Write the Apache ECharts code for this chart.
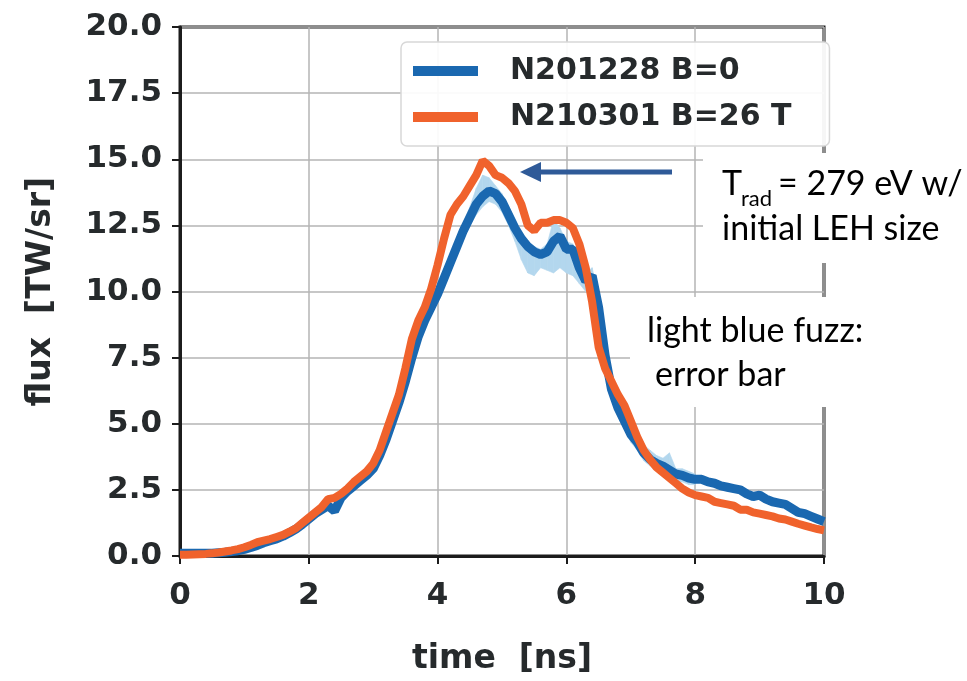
<!DOCTYPE html>
<html><head><meta charset="utf-8">
<script src="https://cdn.jsdelivr.net/npm/echarts@6/dist/echarts.min.js"></script>
<style>html,body{margin:0;padding:0;background:#fff}#c{width:967px;height:681px}</style>
</head><body><div id="c"></div>
<script>
// time [ns]
const time = [0.0,0.1,0.2,0.3,0.4,0.5,0.6,0.7,0.8,0.9,
1.0,1.1,1.2,1.3,1.4,1.5,1.6,1.7,1.8,1.9,
2.0,2.1,2.2,2.3,2.4,2.5,2.6,2.7,2.8,2.9,
3.0,3.1,3.2,3.3,3.4,3.5,3.6,3.7,3.8,3.9,
4.0,4.1,4.2,4.3,4.4,4.5,4.6,4.7,4.8,4.9,
5.0,5.1,5.2,5.3,5.4,5.5,5.6,5.7,5.8,5.9,
6.0,6.1,6.2,6.3,6.4,6.5,6.6,6.7,6.8,6.9,
7.0,7.1,7.2,7.3,7.4,7.5,7.6,7.7,7.8,7.9,
8.0,8.1,8.2,8.3,8.4,8.5,8.6,8.7,8.8,8.9,
9.0,9.1,9.2,9.3,9.4,9.5,9.6,9.7,9.8,9.9,10.0];
// N201228 B=0 flux [TW/sr]
const fluxB0 = [0.10,0.10,0.10,0.10,0.10,0.10,0.12,0.14,0.17,0.20,
0.25,0.32,0.40,0.50,0.58,0.65,0.75,0.88,1.02,1.20,
1.40,1.60,1.75,1.90,1.70,2.20,2.45,2.65,2.85,3.05,
3.30,3.80,4.40,5.10,5.80,6.60,7.50,8.30,8.90,9.40,
9.90,10.5,11.1,11.7,12.3,12.8,13.3,13.6,13.8,13.7,
13.4,12.9,12.4,12.0,11.7,11.5,11.4,11.5,11.9,12.1,
11.6,11.6,10.9,10.4,10.6,9.4,7.6,6.3,5.6,5.1,
4.6,4.3,3.9,3.65,3.5,3.4,3.25,3.1,3.05,2.95,
2.90,2.90,2.80,2.75,2.65,2.60,2.55,2.50,2.35,2.25,
2.30,2.15,2.05,2.00,1.95,1.80,1.65,1.60,1.50,1.40,1.30];
// N210301 B=26 T flux [TW/sr]
const fluxB26 = [0.05,0.05,0.06,0.07,0.08,0.10,0.13,0.17,0.21,0.26,
0.33,0.42,0.52,0.58,0.64,0.72,0.80,0.92,1.05,1.25,
1.45,1.65,1.85,2.15,2.20,2.35,2.55,2.80,3.00,3.20,
3.50,4.00,4.70,5.40,6.10,7.10,8.20,8.90,9.40,10.1,
11.0,12.0,12.9,13.3,13.6,14.0,14.4,14.95,14.75,14.4,
14.3,14.1,13.8,13.3,12.5,12.3,12.6,12.6,12.7,12.7,
12.6,12.4,11.8,10.9,9.6,7.9,7.1,6.6,6.1,5.7,
5.1,4.5,4.0,3.65,3.35,3.15,2.95,2.75,2.55,2.40,
2.30,2.25,2.20,2.05,2.00,1.95,1.90,1.75,1.75,1.65,
1.60,1.55,1.50,1.42,1.38,1.30,1.22,1.15,1.08,1.02,0.97];
// error band of N201228 (light blue fuzz)
const fuzzTime = [4.3,4.4,4.5,4.6,4.7,4.8,4.9,5.0,5.1,5.2,5.3,5.4,5.5,5.6,5.7,5.8,5.9,6.0,6.1,6.2,6.3,6.4,6.5,6.6,6.7,6.8,6.9,7.0,7.1,7.2,7.3,7.4,7.5,7.6,7.7,7.8,7.9,8.0];
const fuzzLow  = [11.4,12.0,12.5,12.9,13.2,13.4,13.3,13.0,12.5,11.9,11.2,10.7,10.6,10.9,10.8,10.7,10.9,10.7,10.6,10.3,10.0,9.8,8.8,7.2,5.9,5.3,4.8,4.3,4.0,3.6,3.4,3.2,3.1,3.0,2.8,2.8,2.7,2.7];
const fuzzHigh = [11.9,12.6,13.2,13.9,14.4,14.3,14.0,13.7,13.2,12.7,12.2,11.9,11.7,11.6,11.8,12.7,12.4,11.9,11.8,11.1,10.7,10.9,9.8,8.0,6.6,5.9,5.4,4.9,4.6,4.2,4.0,3.8,3.7,3.9,3.3,3.3,3.2,3.1];

const seriesNames = ['N201228 B=0', 'N210301 B=26 T'];
const xTickInterval = 2, yTickInterval = 2.5;

const blue = '#1a68b0', orange = '#f0622c', fuzzColor = '#b3d7ee';
const tickFont = {fontFamily:'DejaVu Sans', fontWeight:'bold', fontSize:31, color:'#262a2c'};

const chart = echarts.init(document.getElementById('c'), null, {renderer:'canvas'});
const pair = (xs, ys) => xs.map((x,i)=>[x, ys[i]]);

const option = {
  animation:false,
  backgroundColor:'#fff',
  grid:{left:180, top:27, width:644, height:534, show:true, borderColor:'#1c1c1c', borderWidth:3, backgroundColor:'transparent'},
  xAxis:{type:'value', min:0, max:10, interval:xTickInterval,
    axisLine:{show:true, lineStyle:{color:'#1c1c1c', width:3}},
    axisTick:{show:true, length:8, lineStyle:{color:'#1c1c1c', width:2}},
    axisLabel:Object.assign({margin:24}, tickFont),
    splitLine:{show:true, lineStyle:{color:'#b4b4b4', width:1.5}},
    name:'time  [ns]', nameLocation:'middle', nameGap:87,
    nameTextStyle:{fontFamily:'DejaVu Sans', fontWeight:'bold', fontSize:33, color:'#262a2c'}
  },
  yAxis:{type:'value', min:0, max:20, interval:yTickInterval,
    axisLine:{show:true, lineStyle:{color:'#1c1c1c', width:3}},
    axisTick:{show:true, length:8, lineStyle:{color:'#1c1c1c', width:2}},
    axisLabel:Object.assign({margin:18, formatter:v=>v.toFixed(1)}, tickFont),
    splitLine:{show:true, lineStyle:{color:'#b4b4b4', width:1.5}},
    name:'flux  [TW/sr]', nameLocation:'middle', nameGap:122, nameRotate:90,
    nameTextStyle:{fontFamily:'DejaVu Sans', fontWeight:'bold', fontSize:33, color:'#262a2c'}
  },
  legend:{data:seriesNames, orient:'vertical', left:401, top:42, padding:[11,38,11,12], itemGap:10,
    icon:'rect', itemWidth:65, itemHeight:10,
    backgroundColor:'rgba(255,255,255,0.92)', borderColor:'#d8d8d8', borderWidth:1.5, borderRadius:6,
    textStyle:{fontFamily:'DejaVu Sans', fontWeight:'bold', fontSize:30, color:'#262a2c', lineHeight:36, padding:[0,0,0,27]}
  },
  series:[
    {name:'fuzz', type:'custom', z:1, silent:true, clip:true,
      data:fuzzTime.map((t,i)=>[t, fuzzLow[i], fuzzHigh[i]]),
      encode:{x:0, y:[1,2]},
      renderItem:(params, api)=>{
        const i = params.dataIndex;
        if (i >= fuzzTime.length-1) return null;
        const a = api.coord([fuzzTime[i], fuzzLow[i]]), b = api.coord([fuzzTime[i+1], fuzzLow[i+1]]);
        const c = api.coord([fuzzTime[i+1], fuzzHigh[i+1]]), d = api.coord([fuzzTime[i], fuzzHigh[i]]);
        return {type:'polygon', shape:{points:[a,b,c,d]}, style:{fill:fuzzColor, stroke:fuzzColor, lineWidth:0.6}};
      }
    },
    {name:seriesNames[0], type:'line', data:pair(time, fluxB0), showSymbol:false, lineStyle:{color:blue, width:9}, itemStyle:{color:blue}, z:3},
    {name:seriesNames[1], type:'line', data:pair(time, fluxB26), showSymbol:false, lineStyle:{color:orange, width:8}, itemStyle:{color:orange}, z:4}
  ],
  graphic:[
    {type:'rect', z:100, shape:{x:703, y:153, width:264, height:110}, style:{fill:'#fff'}},
    {type:'rect', z:100, shape:{x:630, y:297, width:337, height:110}, style:{fill:'#fff'}},
    {type:'line', z:101, shape:{x1:672, y1:172, x2:535, y2:172}, style:{stroke:'#2f5a98', lineWidth:5}},
    {type:'polygon', z:101, shape:{points:[[520,172],[541,162],[541,182]]}, style:{fill:'#2f5a98'}},
    {type:'text', z:102, x:722, y:167, style:{text:'T', fontFamily:'Lato', fontSize:34, fill:'#000', verticalAlign:'top'}},
    {type:'text', z:102, x:741, y:188, style:{text:'rad', fontFamily:'Lato', fontSize:22, fill:'#000', verticalAlign:'top'}},
    {type:'text', z:102, x:778, y:167, style:{text:'= 279 eV w/', fontFamily:'Lato', fontSize:34, fill:'#000', verticalAlign:'top'}},
    {type:'text', z:102, x:722, y:212, style:{text:'initial LEH size', fontFamily:'Lato', fontSize:34, fill:'#000', verticalAlign:'top'}},
    {type:'text', z:102, x:647, y:314, style:{text:'light blue fuzz:', fontFamily:'Lato', fontSize:34, fill:'#000', verticalAlign:'top'}},
    {type:'text', z:102, x:655, y:358, style:{text:'error bar', fontFamily:'Lato', fontSize:34, fill:'#000', verticalAlign:'top'}}
  ]
};
chart.setOption(option);
</script>
</body></html>
